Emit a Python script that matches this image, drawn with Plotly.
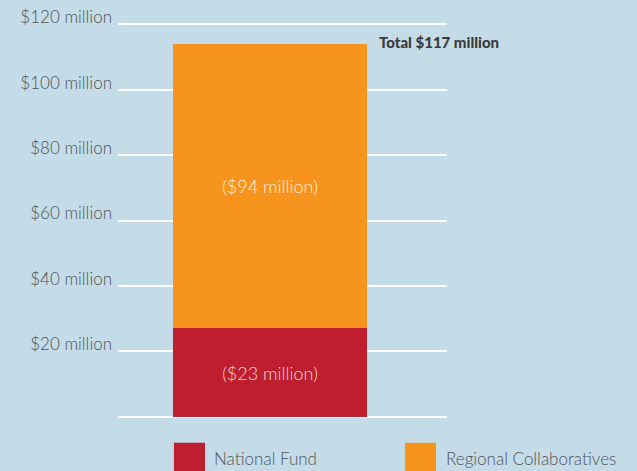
import plotly.graph_objects as go

# Data (bar heights as drawn, labels as printed)
category = ["Funding"]
national_fund = [27]
regional_collab = [87]
national_label = ["($23 million)"]
regional_label = ["($94 million)"]
total_label = "Total $117 million"
tick_vals = [0, 20, 40, 60, 80, 100, 120]
tick_text = ["", "$20 million", "$40 million", "$60 million", "$80 million", "$100 million", "$120 million"]
legend_names = ["National Fund", "Regional Collaboratives"]

RED = "#be1e2d"
ORANGE = "#f7941d"
BG = "#c4dce8"
GREY = "#4e5357"
FONT = "Lato, Open Sans, sans-serif"

fig = go.Figure()
fig.add_trace(go.Bar(
    x=[0], y=national_fund, width=1, marker=dict(color=RED, line=dict(width=0)),
    text=national_label, textposition="inside", insidetextanchor="middle",
    textfont=dict(color="#f6dadc", size=18, family=FONT, weight=300), name=legend_names[0],
    showlegend=False, hoverinfo="skip"))
fig.add_trace(go.Bar(
    x=[0], y=regional_collab, width=1, marker=dict(color=ORANGE, line=dict(width=0)),
    text=regional_label, textposition="inside", insidetextanchor="middle",
    textfont=dict(color="#fff0de", size=18, family=FONT, weight=300), name=legend_names[1],
    showlegend=False, hoverinfo="skip"))

total = national_fund[0] + regional_collab[0]
fig.add_annotation(x=0.5, y=total, xref="x", yref="y", text=total_label,
                   showarrow=False, xanchor="left", yanchor="middle", xshift=10, yshift=2,
                   font=dict(size=15, color="#3a3a3a", family=FONT, weight=900))

# Legend drawn as swatches + text
swatches = [(0.170, 0.2644, RED, 0.2918), (0.8723, 0.9666, ORANGE, 0.997)]
for (x0, x1, col, tx), name in zip(swatches, legend_names):
    fig.add_shape(type="rect", xref="paper", yref="paper", x0=x0, x1=x1, y0=-0.057, y1=-0.14,
                  fillcolor=col, line=dict(width=0))
    fig.add_annotation(x=tx, y=-0.0968, xref="paper", yref="paper", text=name, showarrow=False,
                       xanchor="left", yanchor="middle", xshift=-2,
                       font=dict(size=17, color=GREY, family=FONT, weight=300))

fig.update_layout(
    barmode="stack",
    width=637, height=471,
    margin=dict(l=118, r=190, t=21, b=51),
    paper_bgcolor=BG, plot_bgcolor=BG,
    showlegend=False,
    font=dict(family=FONT, color=GREY),
    xaxis=dict(range=[-0.7835, 0.9124], showgrid=False, zeroline=False, showticklabels=False,
               fixedrange=True, automargin=False),
    yaxis=dict(range=[-1, 121], tickvals=tick_vals, ticktext=tick_text, showgrid=True,
               gridcolor="white", gridwidth=2, zeroline=True, zerolinecolor="white", zerolinewidth=2,
               ticks="", ticklabelstandoff=5, ticklabelshift=-7, automargin=False,
               tickfont=dict(size=17, color=GREY, family=FONT, weight=300), showline=False),
)

fig.write_html("out.html")
